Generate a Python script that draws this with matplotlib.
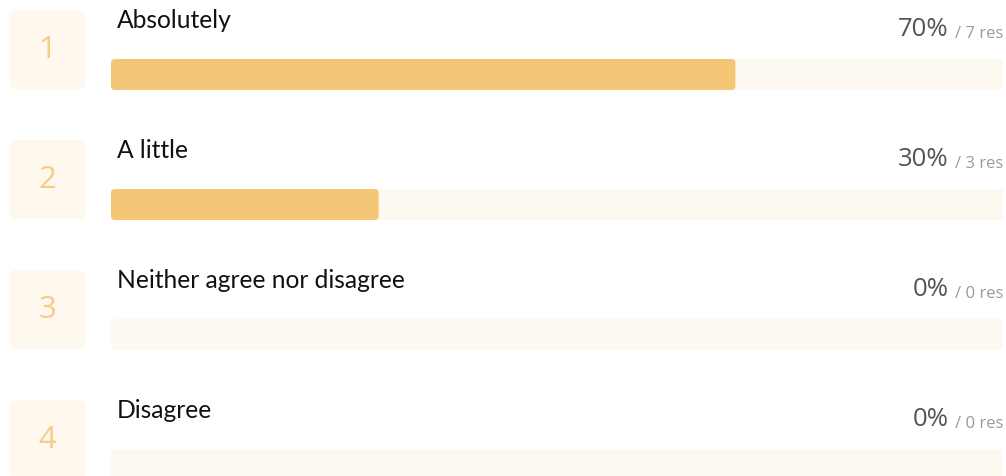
import matplotlib.pyplot as plt
from matplotlib.patches import FancyBboxPatch

# survey answers
labels = ["Absolutely", "A little", "Neither agree nor disagree", "Disagree"]
percents = [70, 30, 0, 0]
responses = [7, 3, 0, 0]

W, H = 1006, 476
ROW_STEP = 130
TRACK_LEFT, TRACK_RIGHT = 111, 1003

fill_col = "#f3c775"
track_col = "#fdf8f0"
box_col = "#fef8ef"
num_col = "#f6cd86"

fig = plt.figure(figsize=(W / 100, H / 100), dpi=100)

# pixel-space layer for boxes and text
ax = fig.add_axes([0, 0, 1, 1])
ax.set_xlim(0, W)
ax.set_ylim(H, 0)
ax.axis("off")

# bar layer: x axis in percent
bx = fig.add_axes([TRACK_LEFT / W, 0, (TRACK_RIGHT - TRACK_LEFT) / W, 1])
bx.set_xlim(0, 100)
bx.set_ylim(H, 0)
bx.axis("off")
px_per_pct = (TRACK_RIGHT - TRACK_LEFT) / 100

for i, (lab, pct, n) in enumerate(zip(labels, percents, responses)):
    top = 10 + i * ROW_STEP

    ax.add_patch(FancyBboxPatch((9, top), 77, 79,
                                boxstyle="round,pad=0,rounding_size=8",
                                fc=box_col, ec="none"))
    ax.text(47.5, top + 40, str(i + 1), ha="center", va="center",
            fontsize=22.5, color=num_col, family="Open Sans")

    ax.text(117, top + 17.5, lab, ha="left", va="baseline",
            fontsize=17.7, color="#111111", family="Lato")

    t = ax.text(1003, top + 28, f"/ {n} res", ha="right", va="baseline",
                fontsize=12, color="#9a9a9a", family="Open Sans")
    ax.annotate(f"{pct}%", xy=(0, 0), xycoords=t, xytext=(-6, 0),
                textcoords="offset pixels", ha="right", va="bottom",
                fontsize=18.5, color="#555555", family="Open Sans")

    bar_top = top + 49
    bx.add_patch(FancyBboxPatch((0, bar_top), 100, 31,
                                boxstyle=f"round,pad=0,rounding_size={4 / px_per_pct}",
                                mutation_aspect=px_per_pct,
                                fc=track_col, ec="none"))
    if pct > 0:
        bx.add_patch(FancyBboxPatch((0, bar_top), pct, 31,
                                    boxstyle=f"round,pad=0,rounding_size={4 / px_per_pct}",
                                    mutation_aspect=px_per_pct,
                                    fc=fill_col, ec="none"))

fig.savefig("out.png", dpi=100, facecolor="white")
